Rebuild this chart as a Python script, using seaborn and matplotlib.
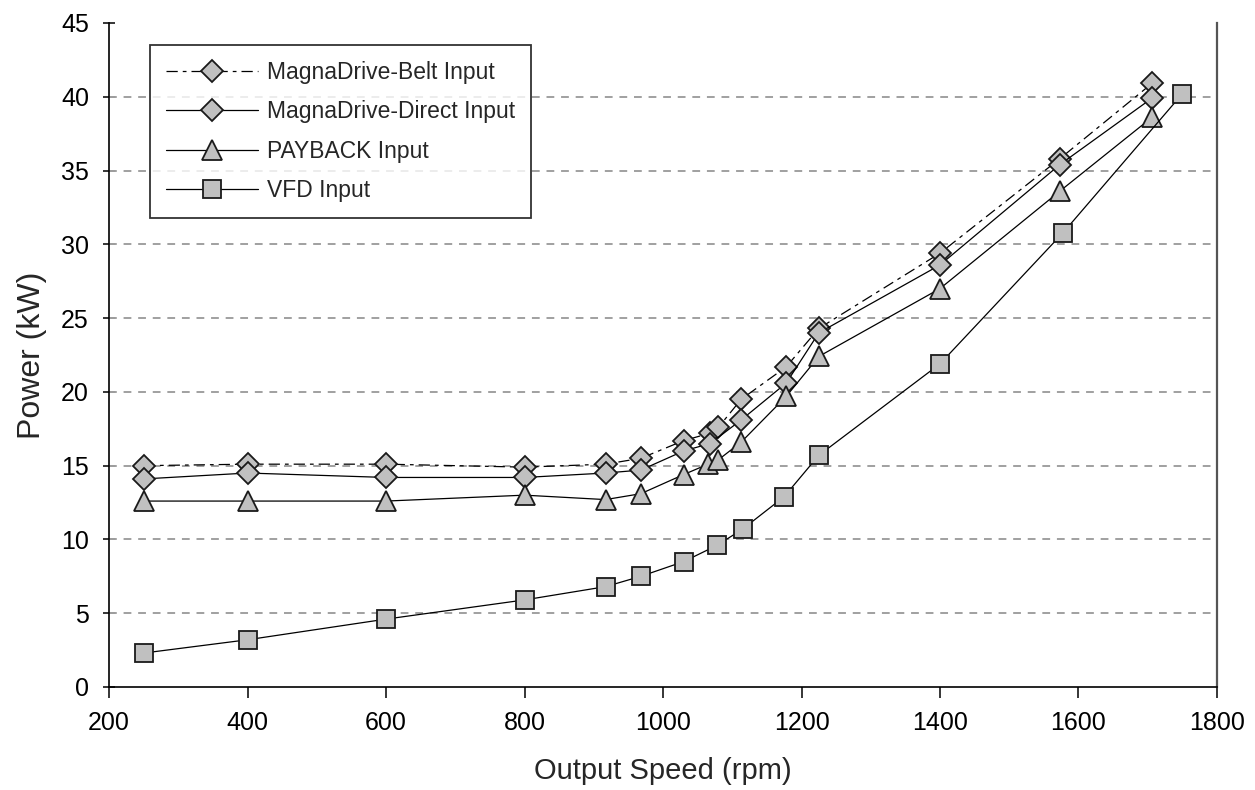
import matplotlib
matplotlib.use("Agg")
import matplotlib.pyplot as plt
import seaborn as sns
import pandas as pd

# Measured input power versus output speed for four drive arrangements
belt_rpm = [250, 400, 600, 800, 917, 968, 1030, 1068, 1080, 1113, 1178, 1225, 1400, 1573, 1706]
belt_kw = [15.0, 15.1, 15.1, 14.9, 15.1, 15.5, 16.7, 17.2, 17.6, 19.5, 21.7, 24.3, 29.4, 35.8, 40.9]

direct_rpm = [250, 400, 600, 800, 917, 968, 1030, 1068, 1113, 1178, 1225, 1400, 1573, 1706]
direct_kw = [14.1, 14.5, 14.2, 14.2, 14.5, 14.7, 16.0, 16.5, 18.1, 20.6, 24.0, 28.6, 35.4, 39.9]

payback_rpm = [250, 400, 600, 800, 917, 968, 1030, 1065, 1080, 1113, 1178, 1225, 1400, 1573, 1706]
payback_kw = [12.6, 12.6, 12.6, 13.0, 12.7, 13.1, 14.4, 15.1, 15.4, 16.6, 19.7, 22.4, 27.0, 33.6, 38.6]

vfd_rpm = [250, 400, 600, 800, 917, 968, 1030, 1078, 1115, 1175, 1225, 1400, 1578, 1750]
vfd_kw = [2.3, 3.2, 4.6, 5.9, 6.8, 7.5, 8.5, 9.6, 10.7, 12.9, 15.7, 21.9, 30.8, 40.2]

x_ticks = [200, 400, 600, 800, 1000, 1200, 1400, 1600, 1800]
y_ticks = [0, 5, 10, 15, 20, 25, 30, 35, 40, 45]

sns.set_style("white")
plt.rcParams["font.family"] = ["Liberation Sans", "DejaVu Sans"]

fig = plt.figure(figsize=(12.55, 7.90), dpi=100)
ax = fig.add_axes([0.0869, 0.1304, 0.8828, 0.8405])

face = "#c0c0c0"
edge = "#1a1a1a"

series = [
    ("MagnaDrive-Belt Input", belt_rpm, belt_kw, "D", 11.0, (0, (9, 4, 3, 4))),
    ("MagnaDrive-Direct Input", direct_rpm, direct_kw, "D", 11.0, "-"),
    ("PAYBACK Input", payback_rpm, payback_kw, "^", 15.0, "-"),
    ("VFD Input", vfd_rpm, vfd_kw, "s", 13.5, "-"),
]

for label, xs, ys, mk, ms, ls in series:
    df = pd.DataFrame({"rpm": xs, "kw": ys})
    sns.lineplot(
        data=df, x="rpm", y="kw", ax=ax, label=label,
        color="black", linewidth=0.9, linestyle=ls,
        marker=mk, markersize=ms, markerfacecolor=face,
        markeredgecolor=edge, markeredgewidth=1.3,
        zorder=3,
    )

ax.set_xlim(200, 1800)
ax.set_ylim(0, 45)
ax.set_xticks(x_ticks)
ax.set_yticks(y_ticks)

# Dashed horizontal gridlines
for y in y_ticks[1:-1]:
    ax.axhline(y, color="#a0a0a0", linestyle=(0, (4, 3.5)), linewidth=1.4, zorder=1)

ax.spines["top"].set_visible(False)
ax.spines["right"].set_color("#555555")
ax.spines["right"].set_linewidth(1.6)
ax.spines["left"].set_linewidth(1.2)
ax.spines["bottom"].set_linewidth(1.2)
ax.spines["left"].set_color("black")
ax.spines["bottom"].set_color("black")

ax.tick_params(axis="y", direction="inout", length=9, width=1.1, labelsize=18, pad=10, colors="black", left=True)
ax.tick_params(axis="x", direction="out", length=8, width=1.1, labelsize=18, pad=9, colors="black", bottom=True)

ax.set_xlabel("Output Speed (rpm)", fontsize=21, labelpad=16)
ax.set_ylabel("Power (kW)", fontsize=23, labelpad=10)

leg = ax.legend(
    loc="upper left", bbox_to_anchor=(0.037, 0.967), borderaxespad=0,
    frameon=True, fancybox=False, edgecolor="black", fontsize=16.5,
    handlelength=4.0, handletextpad=0.4, labelspacing=0.72,
    borderpad=0.7, numpoints=1,
)
leg.get_frame().set_linewidth(1.3)

fig.savefig("out.png", dpi=100)
